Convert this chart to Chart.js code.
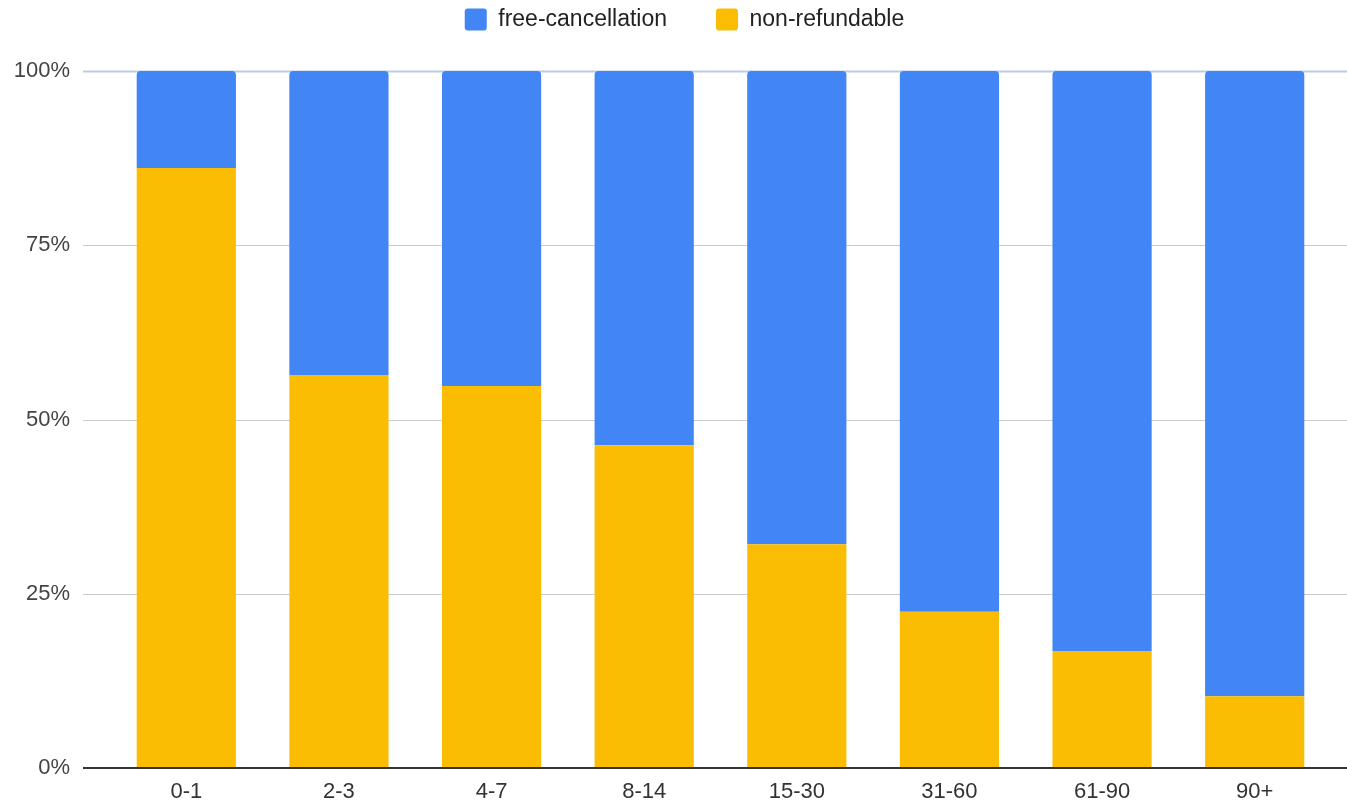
<!DOCTYPE html>
<html>
<head>
<meta charset="utf-8">
<script src="https://cdn.jsdelivr.net/npm/chart.js@4"></script>
<style>
  html, body { margin: 0; padding: 0; background: #fff; }
  #wrap { width: 1347px; height: 804px; }
</style>
</head>
<body>
<div id="wrap"><canvas id="myChart"></canvas></div>
<script>
const categories = ["0-1", "2-3", "4-7", "8-14", "15-30", "31-60", "61-90", "90+"];
const nonRefundable = [86.1, 56.4, 54.8, 46.3, 32.1, 22.4, 16.8, 10.3];
const freeCancellation = [13.9, 43.6, 45.2, 53.7, 67.9, 77.6, 83.2, 89.7];
const yTicks = [0, 25, 50, 75, 100];

Chart.defaults.font.family = "'Liberation Sans', Arial, sans-serif";
Chart.defaults.font.size = 22;

// horizontal grid lines that run past the plot area, like the original
const fullGrid = {
    id: "fullGrid",
    beforeLayout(chart) {
        // give the legend more room below it and nudge it right a bit
        const lg = chart.legend;
        if (!lg || lg._patched) return;
        lg._patched = true;
        const fit = lg.fit;
        lg.fit = function () {
            fit.apply(this, arguments);
            this.height += 31;
        };
        const draw = lg.draw;
        lg.draw = function () {
            const ctx = this.ctx;
            ctx.save();
            ctx.translate(19, 1);
            draw.apply(this, arguments);
            ctx.restore();
        };
    },
    beforeDatasetsDraw(chart) {
        const ctx = chart.ctx;
        const y = chart.scales.y;
        const left = chart.chartArea.left - 27;
        const right = chart.width;
        ctx.save();
        yTicks.forEach((t) => {
            if (t === 0) return;
            const py = Math.round(y.getPixelForValue(t)) + 0.5;
            ctx.beginPath();
            ctx.lineWidth = t === 100 ? 2 : 1;
            ctx.strokeStyle = t === 100 ? "#bccbe6" : "#cccccc";
            ctx.moveTo(left, py);
            ctx.lineTo(right, py);
            ctx.stroke();
        });
        ctx.restore();
    },
    afterDatasetsDraw(chart) {
        const ctx = chart.ctx;
        const py = chart.scales.y.getPixelForValue(0);
        ctx.save();
        ctx.beginPath();
        ctx.lineWidth = 2;
        ctx.strokeStyle = "#333333";
        ctx.moveTo(chart.chartArea.left - 27, py);
        ctx.lineTo(chart.width, py);
        ctx.stroke();
        ctx.restore();
    },
};

const Mychart = document.getElementById("myChart");

new Chart(Mychart, {
    type: "bar",
    data: {
        labels: categories,
        datasets: [
            {
                label: "non-refundable",
                data: nonRefundable,
                backgroundColor: "#fbbc04",
                categoryPercentage: 0.65,
                barPercentage: 1.0,
            },
            {
                label: "free-cancellation",
                data: freeCancellation,
                backgroundColor: "#4285f4",
                borderRadius: { topLeft: 4, topRight: 4, bottomLeft: 0, bottomRight: 0 },
                borderSkipped: false,
                categoryPercentage: 0.65,
                barPercentage: 1.0,
            },
        ],
    },
    options: {
        responsive: true,
        maintainAspectRatio: false,
        animation: false,
        layout: { padding: { left: 0, right: 16, top: -42, bottom: 0 } },
        plugins: {
            legend: {
                position: "top",
                reverse: true,
                labels: {
                    boxWidth: 22,
                    boxHeight: 22,
                    useBorderRadius: true,
                    borderRadius: 3,
                    padding: 49,
                    color: "#222222",
                    font: { size: 23 },
                },
            },
            tooltip: { enabled: false },
        },
        scales: {
            x: {
                stacked: true,
                afterFit: (scale) => { scale.height = 36; },
                grid: { display: false, drawTicks: false },
                border: { display: false },
                ticks: { color: "#333333", padding: 11, font: { size: 22 } },
            },
            y: {
                stacked: true,
                min: 0,
                max: 100,
                afterFit: (scale) => { scale.width = 110; },
                afterBuildTicks: (scale) => {
                    scale.ticks = yTicks.map((v) => ({ value: v }));
                },
                grid: { color: "rgba(0,0,0,0)", drawTicks: true, tickLength: 40 },
                border: { display: false },
                ticks: {
                    color: "#444444",
                    padding: 0,
                    font: { size: 22 },
                    callback: (v) => v + "%",
                },
            },
        },
    },
    plugins: [fullGrid],
});
</script>
</body>
</html>
